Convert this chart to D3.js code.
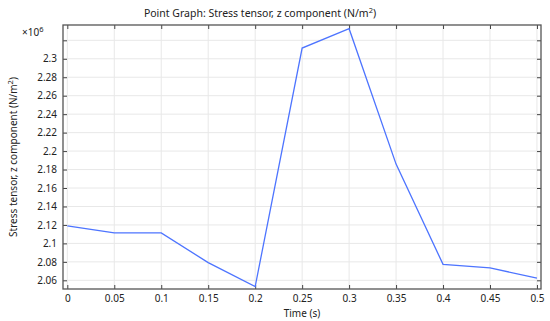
<!DOCTYPE html>
<html>
<head>
<meta charset="utf-8">
<script src="https://cdn.jsdelivr.net/npm/d3@7"></script>
<style>
html,body{margin:0;padding:0;background:#fff;}
svg{display:block;font-family:"Noto Sans","DejaVu Sans",sans-serif;}
</style>
</head>
<body>
<svg id="chart" width="550" height="321"></svg>
<script>
const times = [0, 0.05, 0.1, 0.15, 0.2, 0.25, 0.3, 0.35, 0.4, 0.45, 0.5];
const stress = [2.119, 2.1113, 2.1113, 2.0792, 2.0532, 2.3116, 2.3326, 2.1859, 2.0773, 2.0734, 2.0625];
const xTicks = [0, 0.05, 0.1, 0.15, 0.2, 0.25, 0.3, 0.35, 0.4, 0.45, 0.5];
const yTicks = [2.06, 2.08, 2.1, 2.12, 2.14, 2.16, 2.18, 2.2, 2.22, 2.24, 2.26, 2.28, 2.3, 2.32];
const yTickLabels = ["2.06","2.08","2.1","2.12","2.14","2.16","2.18","2.2","2.22","2.24","2.26","2.28","2.3",""];
const xTickLabels = ["0","0.05","0.1","0.15","0.2","0.25","0.3","0.35","0.4","0.45","0.5"];

const svg = d3.select("#chart");
const L = 63, R = 541, T = 25, B = 289;
const x = d3.scaleLinear().domain([-0.0046, 0.5043]).range([L, R]);
const y = d3.scaleLinear().domain([2.0506, 2.3366]).range([B, T]);

// grid
const grid = svg.append("g");
grid.selectAll(".gx").data(xTicks).join("line")
  .attr("x1", d => x(d)).attr("x2", d => x(d)).attr("y1", T).attr("y2", B)
  .attr("stroke", "#e8e8e8").attr("stroke-width", 1);
grid.selectAll(".gy").data(yTicks).join("line")
  .attr("y1", d => y(d)).attr("y2", d => y(d)).attr("x1", L).attr("x2", R)
  .attr("stroke", "#e8e8e8").attr("stroke-width", 1);

// axes
const fmtX = (d,i) => xTickLabels[i];
const fmtY = (d,i) => yTickLabels[i];
const axB = svg.append("g").attr("transform", `translate(0,${B})`)
  .call(d3.axisBottom(x).tickValues(xTicks).tickFormat(fmtX).tickSizeInner(-4).tickSizeOuter(0).tickPadding(6));
const axT = svg.append("g").attr("transform", `translate(0,${T})`)
  .call(d3.axisTop(x).tickValues(xTicks).tickFormat("").tickSizeInner(-4).tickSizeOuter(0));
const axL = svg.append("g").attr("transform", `translate(${L},0)`)
  .call(d3.axisLeft(y).tickValues(yTicks).tickFormat(fmtY).tickSizeInner(-4).tickSizeOuter(0).tickPadding(6));
const axR = svg.append("g").attr("transform", `translate(${R},0)`)
  .call(d3.axisRight(y).tickValues(yTicks).tickFormat("").tickSizeInner(-4).tickSizeOuter(0));
[axB, axT, axL, axR].forEach(g => {
  g.select(".domain").remove();
  g.selectAll(".tick line").attr("stroke", "#444");
  g.selectAll(".tick text").attr("fill", "#222").style("font-size", "10px").style("font-family", "'Noto Sans','DejaVu Sans',sans-serif");
});

// frame
svg.append("rect").attr("x", L).attr("y", T).attr("width", R - L).attr("height", B - T)
  .attr("fill", "none").attr("stroke", "#555").attr("stroke-width", 1.3);

// line
const line = d3.line().x((d,i) => x(times[i])).y(d => y(d));
svg.append("path").datum(stress).attr("d", line)
  .attr("fill", "none").attr("stroke", "#4d74ff").attr("stroke-width", 1.3);

// title
const title = svg.append("text").attr("x", 260).attr("y", 17).attr("text-anchor", "middle")
  .style("font-size", "10.5px").attr("fill", "#222");
title.append("tspan").text("Point Graph: Stress tensor, z component (N/m");
title.append("tspan").attr("dy", -4).style("font-size", "7.5px").text("2");
title.append("tspan").attr("dy", 4).text(")");

// multiplier
const mult = svg.append("text").attr("x", 22).attr("y", 36).style("font-size", "10px").attr("fill", "#222");
mult.append("tspan").text("×10");
mult.append("tspan").attr("dy", -4).style("font-size", "7.5px").text("6");

// x label
svg.append("text").attr("x", (L + R) / 2).attr("y", 317).attr("text-anchor", "middle")
  .style("font-size", "10px").attr("fill", "#222").text("Time (s)");

// y label
const yl = svg.append("text").attr("transform", `translate(17,${(T + B) / 2}) rotate(-90)`)
  .attr("text-anchor", "middle").style("font-size", "10px").attr("fill", "#222");
yl.append("tspan").text("Stress tensor, z component (N/m");
yl.append("tspan").attr("dy", -4).style("font-size", "7.5px").text("2");
yl.append("tspan").attr("dy", 4).text(")");
</script>
</body>
</html>
